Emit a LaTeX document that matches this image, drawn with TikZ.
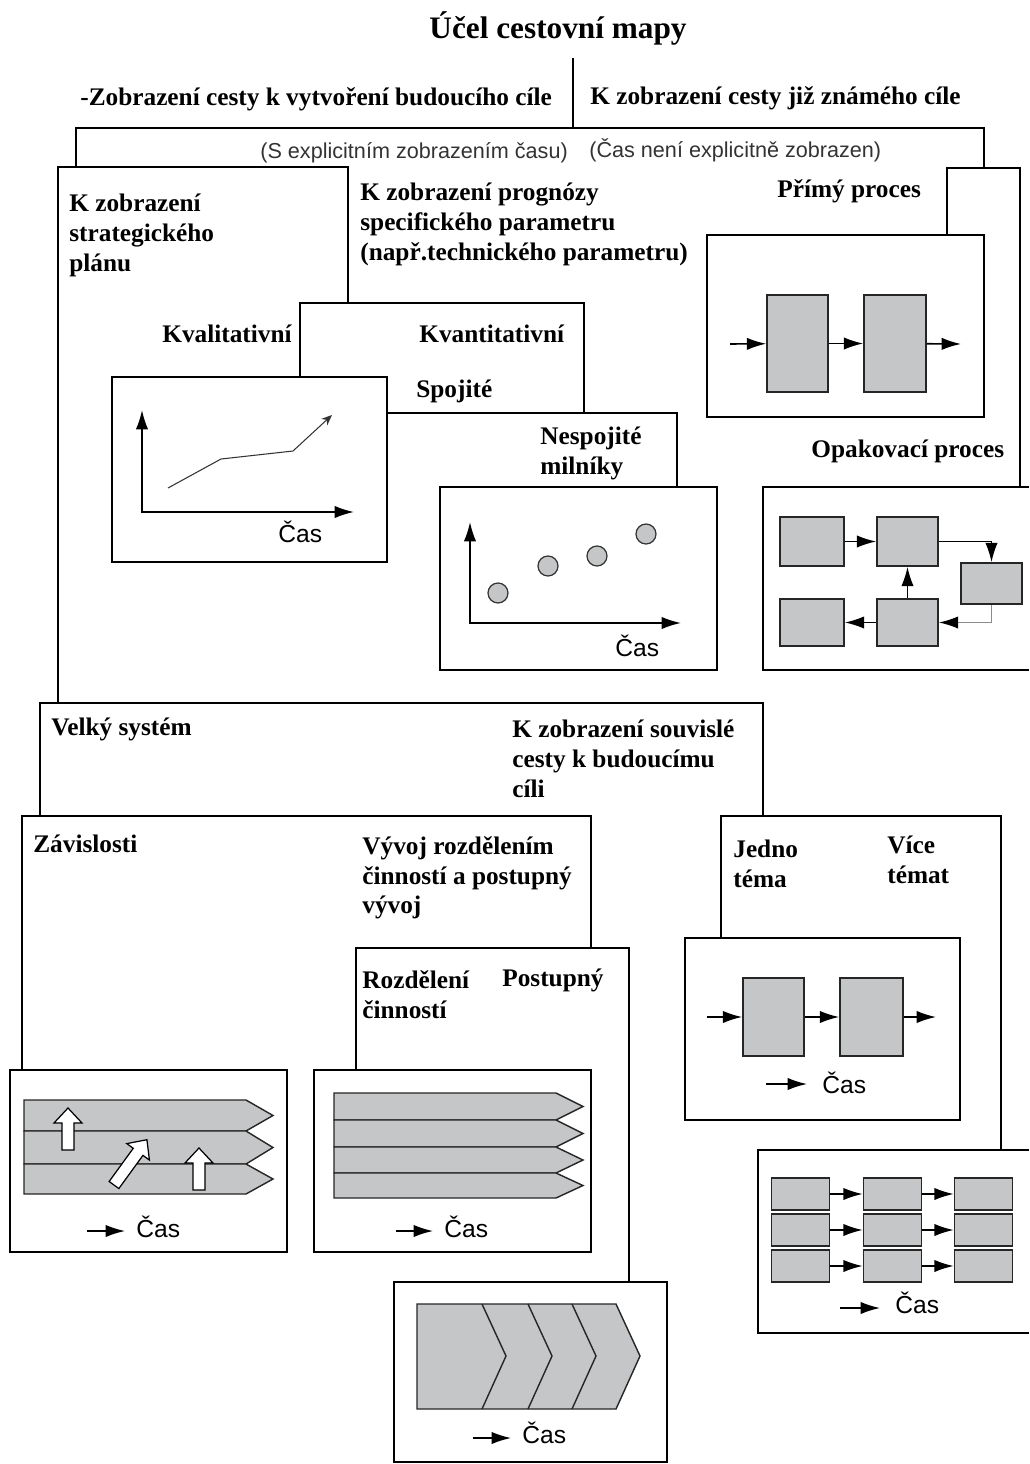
\documentclass[tikz,border=0pt]{standalone}
\usepackage{fontspec}
\setmainfont{Liberation Serif}
\setsansfont{Liberation Sans}
\usetikzlibrary{arrows.meta}
\definecolor{boxgray}{RGB}{197,198,200}

\begin{document}
\begin{tikzpicture}[x=0.02cm,y=-0.02cm,
  fr/.style={line width=1.1pt,line join=miter},
  chart/.style={fr,fill=white},
  lbl/.style={anchor=base west,inner sep=0pt,font=\bfseries\fontsize{14.4}{17}\selectfont},
  mlbl/.style={lbl,anchor=north west,align=left,execute at begin node={\rule{0pt}{13pt}}},
  sub/.style={anchor=base west,inner sep=0pt,text=black!80,font=\sffamily\fontsize{12.3}{14}\selectfont},
  cas/.style={anchor=base west,inner sep=0pt,font=\sffamily\fontsize{14}{16}\selectfont},
  gb/.style={draw=black!85,fill=boxgray,line width=0.9pt,inner sep=0pt},
  arr/.style={line width=0.9pt,-{Latex[length=11pt,width=7pt]}},
  garr/.style={line width=0.9pt,draw=black!45,-{Latex[length=11pt,width=7pt,color=black]}},
  ax/.style={line width=0.9pt,{Latex[length=11pt,width=7pt]}-{Latex[length=11pt,width=7pt]}},
  ms/.style={circle,draw=black!80,fill=boxgray,line width=0.7pt,minimum size=0.4cm,inner sep=0pt},
  bar/.style={draw=black!85,fill=boxgray,line width=0.8pt,line join=miter},
  pics/blockarr/.style={code={\draw[fill=white,line width=0.7pt] (-6,0) -- (-6,{-#1+15}) -- (-14,{-#1+15}) -- (0,-#1) -- (14,{-#1+15}) -- (6,{-#1+15}) -- (6,0) -- cycle;}}]
\useasboundingbox (0,0) rectangle (1029,1464);
\node[anchor=base,inner sep=0pt,font=\bfseries\fontsize{17.8}{20}\selectfont] (title) at (558,38) {Účel cestovní mapy};
\draw[fr] (573,58) -- (573,128);
\draw[fr] (76,167) -- (76,128) -- (984,128) -- (984,168);
\draw[fr] (947,235) -- (947,168) -- (1020,168) -- (1020,487);
\draw[fr] (58,703) -- (58,167) -- (348,167) -- (348,303);
\draw[fr] (300,377) -- (300,303) -- (584,303) -- (584,413);
\draw[fr] (387,413) -- (677,413) -- (677,487);
\draw[fr] (40,816) -- (40,703) -- (763,703) -- (763,816);
\draw[fr] (22,1070) -- (22,816) -- (591,816) -- (591,948);
\draw[fr] (356,1070) -- (356,948) -- (629,948) -- (629,1282);
\draw[fr] (721,938) -- (721,816) -- (1001,816) -- (1001,1150);
\draw[chart] (112,377) rectangle (387,562);
\draw[chart] (440,487) rectangle (717,670);
\draw[chart] (707,235) rectangle (984,417);
\draw[chart] (1029,487) -- (763,487) -- (763,670) -- (1029,670);
\draw[chart] (10,1070) rectangle (287,1252);
\draw[chart] (314,1070) rectangle (591,1252);
\draw[chart] (394,1282) rectangle (667,1462);
\draw[chart] (685,938) rectangle (960,1120);
\draw[chart] (1029,1150) -- (758,1150) -- (758,1333) -- (1029,1333);

\node[lbl] (newgoal) at (80,105) {-Zobrazení cesty k vytvoření budoucího cíle};
\node[lbl] (knowngoal) at (590,104) {K zobrazení cesty již známého cíle};
\node[sub] (withtime) at (260,158) {(S explicitním zobrazením času)};
\node[sub] (notime) at (589,157) {(Čas není explicitně zobrazen)};
\node[mlbl] (strat) at (69,194) {K zobrazení\\strategického\\plánu};
\node[mlbl] (forecast) at (360,183) {K zobrazení prognózy\\specifického parametru\\(např.technického parametru)};
\node[lbl] (direct) at (777,197) {Přímý proces};
\node[lbl] (quali) at (162,342) {Kvalitativní};
\node[lbl] (quanti) at (419,342) {Kvantitativní};
\node[lbl] (cont) at (416,397) {Spojité};
\node[mlbl] (discont) at (540,427) {Nespojité\\milníky};
\node[lbl] (repeat) at (811,457) {Opakovací proces};
\node[lbl] (bigsys) at (51,735) {Velký systém};
\node[mlbl] (coherent) at (512,720) {K zobrazení souvislé\\cesty k budoucímu\\cíli};
\node[lbl] (depend) at (33,852) {Závislosti};
\node[mlbl] (splitdev) at (362,836) {Vývoj rozdělením\\činností a postupný\\vývoj};
\node[mlbl] (divide) at (362,970) {Rozdělení\\činností};
\node[lbl] (stepwise) at (502,986) {Postupný};
\node[mlbl] (onetopic) at (733,840) {Jedno\\téma};
\node[mlbl] (moretopic) at (887,836) {Více\\témat};

\coordinate (y1) at (142,410);
\coordinate (x1) at (354,512);
\draw[ax] (y1) |- (x1);
\draw[line width=0.6pt,draw=black!80,-{Stealth[length=6pt,width=5pt]}] (168,488) -- (221,459) -- (293,451) -- (332,415);
\node[cas] (t1) at (278,542) {Čas};

\coordinate (y2) at (470,522);
\coordinate (x2) at (681,623);
\draw[ax] (y2) |- (x2);
\node[ms] (m1) at (498,593) {};
\node[ms] (m2) at (548,566) {};
\node[ms] (m3) at (597,556) {};
\node[ms] (m4) at (646,534) {};
\node[cas] (t2) at (615,656) {Čas};

\node[gb,minimum width=1.22cm,minimum height=1.94cm] (p1) at (797.5,343.5) {};
\node[gb,minimum width=1.24cm,minimum height=1.94cm] (p2) at (895,343.5) {};
\coordinate (pin) at (730,344);
\coordinate (pout) at (961,344);
\draw[arr] (pin) -- (p1);
\draw[arr] (p1) -- (p2);
\draw[arr] (p2) -- (pout);

\node[gb,minimum width=1.28cm,minimum height=0.98cm] (r1) at (812,541.5) {};
\node[gb,minimum width=1.22cm,minimum height=0.98cm] (r2) at (907.5,541.5) {};
\node[gb,minimum width=1.22cm,minimum height=0.82cm] (r3) at (991.5,583.5) {};
\node[gb,minimum width=1.22cm,minimum height=0.94cm] (r4) at (907.5,622.5) {};
\node[gb,minimum width=1.28cm,minimum height=0.94cm] (r5) at (812,622.5) {};
\draw[arr] (r1) -- (r2);
\draw[arr] (r2) -| (r3);
\draw[garr] (r3) |- (r4);
\draw[arr] (r4) -- (r2);
\draw[arr] (r4) -- (r5);

\foreach \t/\b in {1100/1131,1131/1164,1164/1194}
  \draw[bar] (24,\t) -- (246,\t) -- (273,{(\t+\b)/2}) -- (246,\b) -- (24,\b) -- cycle;
\pic at (68,1150) {blockarr=42};
\pic[rotate=-36] at (114,1185) {blockarr=56};
\pic at (199,1190) {blockarr=42};
\node[cas] (t3) at (136,1237) {Čas};
\draw[arr] ([shift={(-49,-6)}]t3.base west) -- ([shift={(-11,-6)}]t3.base west);

\foreach \t/\b in {1093/1120,1120/1147,1147/1173,1173/1198}
  \draw[bar] (334,\t) -- (556,\t) -- (583,{(\t+\b)/2}) -- (556,\b) -- (334,\b) -- cycle;
\node[cas] (t4) at (444,1237) {Čas};
\draw[arr] ([shift={(-48,-6)}]t4.base west) -- ([shift={(-11,-6)}]t4.base west);

\draw[bar] (417,1304) -- (616,1304) -- (640,1356) -- (616,1409) -- (417,1409) -- cycle;
\foreach \cx in {482,528,572}
  \draw[line width=0.8pt,draw=black!85] (\cx,1304) -- ({\cx+24},1356) -- (\cx,1409);
\node[cas] (t5) at (522,1443) {Čas};
\draw[arr] ([shift={(-49,-5)}]t5.base west) -- ([shift={(-11,-5)}]t5.base west);

\node[gb,minimum width=1.22cm,minimum height=1.56cm] (j1) at (773.5,1017) {};
\node[gb,minimum width=1.26cm,minimum height=1.56cm] (j2) at (871.5,1017) {};
\coordinate (jin) at (707,1017);
\coordinate (jout) at (936,1017);
\draw[arr] (jin) -- (j1);
\draw[arr] (j1) -- (j2);
\draw[arr] (j2) -- (jout);
\node[cas] (t6) at (822,1093) {Čas};
\draw[arr] ([shift={(-56,-9)}]t6.base west) -- ([shift={(-15,-9)}]t6.base west);

\foreach \r/\y in {1/1194,2/1230,3/1266}{
  \foreach \c/\x in {1/800.5,2/892.5,3/983.5}
    \node[gb,minimum width=1.16cm,minimum height=0.64cm] (g\r\c) at (\x,\y) {};
  \draw[arr] (g\r1) -- (g\r2);
  \draw[arr] (g\r2) -- (g\r3);
}
\node[cas] (t7) at (895,1313) {Čas};
\draw[arr] ([shift={(-55,-5)}]t7.base west) -- ([shift={(-15,-5)}]t7.base west);
\end{tikzpicture}
\end{document}
